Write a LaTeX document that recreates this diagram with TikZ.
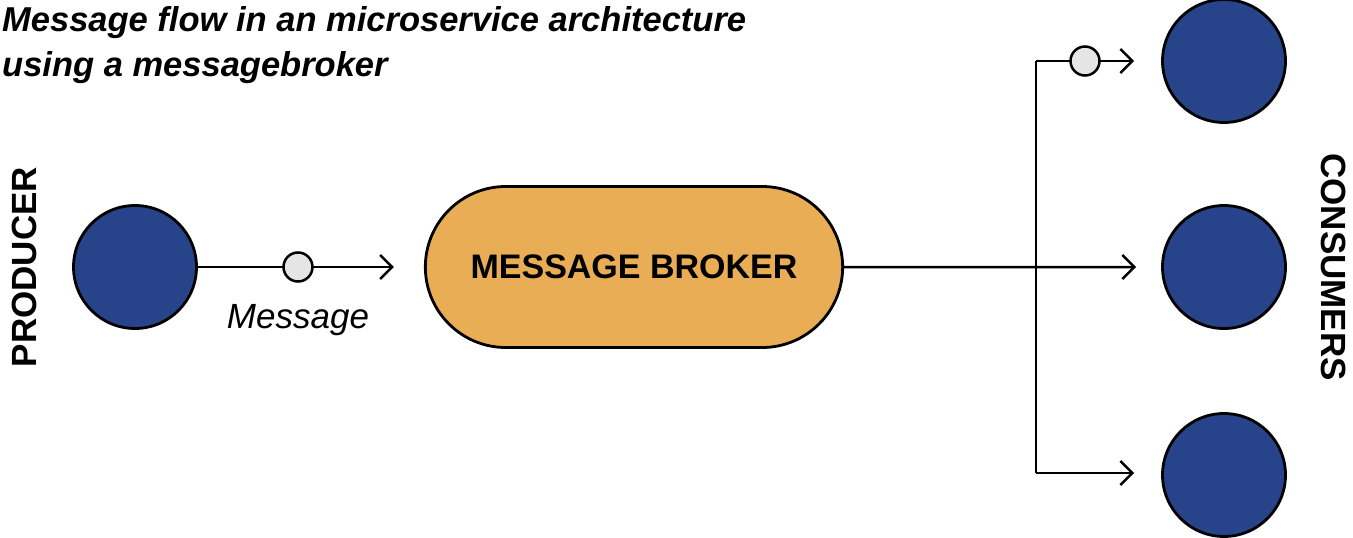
\documentclass[tikz,border=0pt]{standalone}
\usepackage{fontspec}
\setmainfont{Liberation Sans}
\usetikzlibrary{positioning,shapes.misc,arrows.meta}

\definecolor{servblue}{RGB}{39,67,138}
\definecolor{brokerorange}{RGB}{232,173,85}
\definecolor{msggray}{RGB}{229,229,229}

\tikzset{
  service/.style={circle, draw=black, line width=2.8pt, fill=servblue, minimum size=123pt, inner sep=0pt},
  msgdot/.style={circle, draw=black, line width=2.5pt, fill=msggray, minimum size=29pt, inner sep=0pt},
  broker/.style={rounded rectangle, draw=black, line width=2.8pt, fill=brokerorange,
    minimum width=424pt, minimum height=161pt, font=\bfseries\fontsize{34}{40}\selectfont},
  flow/.style={line width=2.5pt, -{Straight Barb[length=12pt,width=24pt,line width=2.5pt]}},
  wire/.style={line width=2.5pt},
  sidelabel/.style={font=\bfseries\fontsize{35}{40}\selectfont}
}

\begin{document}
\begin{tikzpicture}[x=1pt, y=-1pt]
  \useasboundingbox (0,0) rectangle (1353,538);

  % Title
  \node[anchor=north west, align=left, inner sep=0pt, font=\bfseries\itshape\fontsize{34.5}{45}\selectfont]
    (title) at (2,6) {Message flow in an microservice architecture\\using a messagebroker};

  % Define nodes
  \node[service]                   (prod)   at (135,267) {};
  \node[sidelabel, rotate=90]      (prodl)  at (24,267)  {PRODUCER};
  \node[broker]                    (brk)    at (634,267) {MESSAGE BROKER};
  \node[service]                   (cons1)  at (1224,61)  {};
  \node[service]                   (cons2)  at (1224,267) {};
  \node[service]                   (cons3)  at (1224,475) {};
  \node[sidelabel, rotate=-90]     (consl)  at (1334,267) {CONSUMERS};
  \coordinate (jtop) at (1036,61);
  \coordinate (jbot) at (1036,473);
  \coordinate (c3in) at (cons3.west |- jbot);

  % Connectors
  \draw[flow, shorten >=30pt] (prod) -- (brk);
  \node[msgdot]                    (msg1)   at (298,267) {};
  \node[font=\itshape\fontsize{35}{40}\selectfont, below=18pt of msg1] (msgl) {Message};
  \draw[flow, shorten >=25pt] (brk) -- (cons2);
  \draw[wire] (jtop) -- (jbot);
  \draw[flow, shorten >=27pt] (jtop) -- (cons1);
  \draw[flow, shorten >=27pt] (jbot) -- (c3in);
  \node[msgdot]                    (msg2)   at (1085,61) {};

\end{tikzpicture}
\end{document}
